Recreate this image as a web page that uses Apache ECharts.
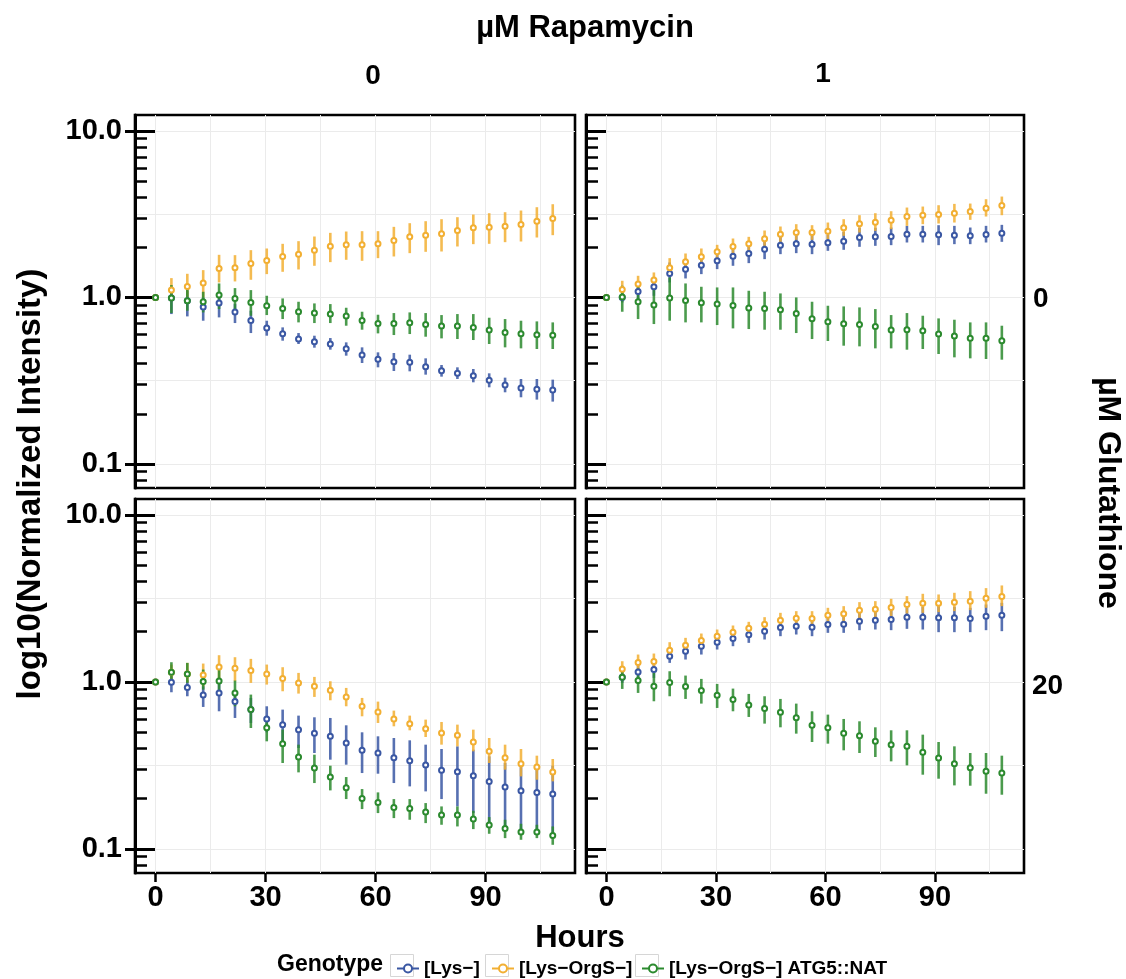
<!DOCTYPE html>
<html><head><meta charset="utf-8">
<script src="https://cdn.jsdelivr.net/npm/echarts@6/dist/echarts.min.js"></script>
<style>html,body{margin:0;padding:0;background:#fff}#c{width:1126px;height:979px}</style>
</head><body><div id="c"></div>
<script>
// ---------- data (y values are log10(Normalized Intensity)) ----------
const hours = [0, 4.33, 8.67, 13, 17.33, 21.67, 26, 30.33, 34.67, 39, 43.33, 47.67, 52, 56.33, 60.67, 65, 69.33, 73.67, 78, 82.33, 86.67, 91, 95.33, 99.67, 104, 108.33];
const genotypes = ['[Lys−]', '[Lys−OrgS−]', '[Lys−OrgS−] ATG5::NAT'];
const rapamycinLevels = ['0', '1'];
const glutathioneLevels = ['0', '20'];
const hourTicks = [0, 30, 60, 90];
const hourGrid = [0, 15, 30, 45, 60, 75, 90, 105];
const logMajor = [-1, 0, 1];
const logGrid = [-1, -0.5, 0, 0.5, 1];
const logMinorFactors = [2, 3, 4, 5, 6, 7, 8, 9];

// Rapamycin 0, Glutathione 0
const r0g0_lys_mid = [0, -0.004, -0.020, -0.058, -0.034, -0.088, -0.138, -0.184, -0.218, -0.250, -0.266, -0.280, -0.308, -0.346, -0.372, -0.386, -0.390, -0.416, -0.440, -0.456, -0.470, -0.498, -0.526, -0.544, -0.552, -0.556];
const r0g0_lys_hi  = [0, 0.050, 0.040, 0, 0.030, -0.040, -0.080, -0.140, -0.180, -0.214, -0.230, -0.244, -0.270, -0.300, -0.330, -0.334, -0.344, -0.366, -0.406, -0.420, -0.430, -0.456, -0.482, -0.490, -0.490, -0.494];
const r0g0_lys_lo  = [0, -0.100, -0.114, -0.140, -0.120, -0.154, -0.214, -0.230, -0.260, -0.280, -0.302, -0.314, -0.350, -0.394, -0.420, -0.442, -0.444, -0.464, -0.476, -0.490, -0.510, -0.540, -0.570, -0.600, -0.614, -0.626];
const r0g0_orgs_mid = [0, 0.044, 0.066, 0.086, 0.174, 0.178, 0.204, 0.222, 0.246, 0.260, 0.284, 0.308, 0.316, 0.316, 0.322, 0.342, 0.364, 0.374, 0.382, 0.402, 0.418, 0.422, 0.428, 0.438, 0.458, 0.474];
const r0g0_orgs_hi  = [0, 0.116, 0.142, 0.164, 0.256, 0.254, 0.284, 0.294, 0.322, 0.338, 0.366, 0.388, 0.396, 0.398, 0.398, 0.424, 0.446, 0.458, 0.470, 0.482, 0.498, 0.506, 0.512, 0.522, 0.542, 0.560];
const r0g0_orgs_lo  = [0, -0.026, -0.010, 0.000, 0.090, 0.096, 0.106, 0.140, 0.154, 0.168, 0.190, 0.212, 0.226, 0.220, 0.236, 0.246, 0.266, 0.274, 0.276, 0.306, 0.320, 0.322, 0.332, 0.336, 0.360, 0.374];
const r0g0_atg5_mid = [0, -0.004, -0.020, -0.026, 0.014, -0.006, -0.030, -0.050, -0.066, -0.086, -0.094, -0.100, -0.112, -0.138, -0.156, -0.156, -0.152, -0.162, -0.172, -0.172, -0.180, -0.196, -0.210, -0.218, -0.224, -0.228];
const r0g0_atg5_hi  = [0, 0.074, 0.064, 0.034, 0.084, 0.056, 0.044, 0.010, -0.006, -0.026, -0.036, -0.040, -0.062, -0.086, -0.104, -0.094, -0.090, -0.094, -0.106, -0.100, -0.100, -0.122, -0.130, -0.140, -0.144, -0.150];
const r0g0_atg5_lo  = [0, -0.094, -0.080, -0.090, -0.070, -0.070, -0.110, -0.106, -0.130, -0.150, -0.154, -0.154, -0.170, -0.194, -0.216, -0.226, -0.220, -0.236, -0.246, -0.250, -0.256, -0.280, -0.300, -0.306, -0.310, -0.310];

// Rapamycin 1, Glutathione 0
const r1g0_lys_mid = [0, 0, 0.036, 0.064, 0.144, 0.170, 0.194, 0.220, 0.248, 0.264, 0.290, 0.314, 0.322, 0.320, 0.328, 0.338, 0.360, 0.364, 0.366, 0.380, 0.380, 0.376, 0.374, 0.370, 0.378, 0.386];
const r1g0_lys_hi  = [0, 0.040, 0.090, 0.120, 0.210, 0.226, 0.250, 0.270, 0.304, 0.320, 0.346, 0.364, 0.380, 0.380, 0.378, 0.394, 0.418, 0.418, 0.420, 0.430, 0.430, 0.434, 0.430, 0.420, 0.430, 0.436];
const r1g0_lys_lo  = [0, -0.030, -0.010, 0.010, 0.090, 0.114, 0.140, 0.170, 0.190, 0.206, 0.230, 0.260, 0.266, 0.260, 0.280, 0.286, 0.304, 0.310, 0.314, 0.330, 0.330, 0.314, 0.320, 0.320, 0.330, 0.334];
const r1g0_orgs_mid = [0, 0.048, 0.080, 0.104, 0.178, 0.214, 0.244, 0.274, 0.306, 0.322, 0.352, 0.380, 0.390, 0.390, 0.398, 0.418, 0.442, 0.452, 0.464, 0.486, 0.494, 0.498, 0.506, 0.516, 0.536, 0.552];
const r1g0_orgs_hi  = [0, 0.100, 0.130, 0.150, 0.236, 0.264, 0.294, 0.316, 0.354, 0.364, 0.402, 0.426, 0.440, 0.434, 0.450, 0.470, 0.494, 0.506, 0.518, 0.540, 0.546, 0.554, 0.562, 0.564, 0.590, 0.606];
const r1g0_orgs_lo  = [0, 0.010, 0.034, 0.060, 0.140, 0.174, 0.200, 0.230, 0.266, 0.280, 0.310, 0.334, 0.346, 0.346, 0.350, 0.370, 0.390, 0.400, 0.410, 0.430, 0.440, 0.444, 0.450, 0.466, 0.486, 0.494];
const r1g0_atg5_mid = [0, 0.002, -0.026, -0.046, -0.004, -0.018, -0.032, -0.040, -0.048, -0.064, -0.066, -0.074, -0.096, -0.128, -0.146, -0.158, -0.162, -0.174, -0.196, -0.194, -0.200, -0.220, -0.232, -0.246, -0.246, -0.260];
const r1g0_atg5_hi  = [0, 0.070, 0.074, 0.060, 0.120, 0.084, 0.064, 0.060, 0.060, 0.040, 0.034, 0.024, 0, -0.026, -0.050, -0.054, -0.060, -0.070, -0.106, -0.094, -0.110, -0.126, -0.134, -0.150, -0.150, -0.170];
const r1g0_atg5_lo  = [0, -0.086, -0.130, -0.160, -0.140, -0.150, -0.150, -0.166, -0.186, -0.190, -0.194, -0.194, -0.214, -0.250, -0.262, -0.290, -0.294, -0.306, -0.306, -0.314, -0.310, -0.340, -0.360, -0.366, -0.370, -0.374];

// Rapamycin 0, Glutathione 20
const r0g20_lys_mid = [0, -0.002, -0.034, -0.078, -0.066, -0.118, -0.166, -0.222, -0.256, -0.286, -0.308, -0.326, -0.366, -0.410, -0.426, -0.454, -0.472, -0.498, -0.530, -0.538, -0.562, -0.596, -0.630, -0.652, -0.662, -0.672];
const r0g20_lys_hi  = [0, 0.034, 0.010, -0.026, 0.004, -0.056, -0.096, -0.146, -0.166, -0.202, -0.212, -0.216, -0.260, -0.302, -0.326, -0.336, -0.350, -0.376, -0.402, -0.386, -0.406, -0.446, -0.486, -0.496, -0.506, -0.502];
const r0g20_lys_lo  = [0, -0.062, -0.086, -0.150, -0.176, -0.216, -0.246, -0.302, -0.356, -0.396, -0.426, -0.466, -0.496, -0.546, -0.550, -0.606, -0.626, -0.656, -0.702, -0.746, -0.786, -0.846, -0.866, -0.886, -0.916, -0.926];
const r0g20_orgs_mid = [0, 0.058, 0.048, 0.042, 0.090, 0.082, 0.068, 0.048, 0.020, -0.006, -0.026, -0.050, -0.090, -0.146, -0.180, -0.222, -0.250, -0.280, -0.306, -0.320, -0.360, -0.416, -0.454, -0.490, -0.510, -0.540];
const r0g20_orgs_hi  = [0, 0.104, 0.114, 0.110, 0.160, 0.148, 0.138, 0.104, 0.088, 0.054, 0.030, 0.004, -0.036, -0.096, -0.118, -0.172, -0.202, -0.226, -0.240, -0.256, -0.286, -0.336, -0.376, -0.402, -0.442, -0.462];
const r0g20_orgs_lo  = [0, 0.014, -0.002, -0.026, 0.004, 0.004, -0.006, -0.016, -0.056, -0.070, -0.090, -0.110, -0.146, -0.206, -0.246, -0.266, -0.290, -0.330, -0.376, -0.386, -0.416, -0.486, -0.526, -0.566, -0.586, -0.596];
const r0g20_atg5_mid = [0, 0.058, 0.048, 0.002, 0.006, -0.066, -0.166, -0.274, -0.370, -0.450, -0.516, -0.570, -0.634, -0.698, -0.722, -0.752, -0.758, -0.780, -0.798, -0.798, -0.822, -0.858, -0.878, -0.900, -0.900, -0.920];
const r0g20_atg5_hi  = [0, 0.118, 0.114, 0.074, 0.080, 0.008, -0.076, -0.216, -0.286, -0.376, -0.436, -0.502, -0.570, -0.642, -0.662, -0.702, -0.702, -0.726, -0.746, -0.746, -0.772, -0.810, -0.826, -0.850, -0.856, -0.866];
const r0g20_atg5_lo  = [0, -0.016, -0.006, -0.046, -0.066, -0.146, -0.276, -0.356, -0.486, -0.542, -0.606, -0.650, -0.702, -0.762, -0.786, -0.816, -0.826, -0.846, -0.856, -0.866, -0.882, -0.910, -0.936, -0.946, -0.936, -0.976];

// Rapamycin 1, Glutathione 20
const r1g20_lys_mid = [0, 0.028, 0.060, 0.074, 0.154, 0.184, 0.214, 0.238, 0.260, 0.282, 0.304, 0.326, 0.334, 0.328, 0.344, 0.346, 0.364, 0.370, 0.374, 0.388, 0.388, 0.384, 0.384, 0.380, 0.394, 0.400];
const r1g20_lys_hi  = [0, 0.064, 0.114, 0.124, 0.204, 0.234, 0.264, 0.284, 0.304, 0.334, 0.354, 0.374, 0.384, 0.378, 0.394, 0.398, 0.424, 0.428, 0.434, 0.444, 0.450, 0.454, 0.450, 0.444, 0.464, 0.474];
const r1g20_lys_lo  = [0, -0.006, 0.014, 0.024, 0.114, 0.134, 0.164, 0.194, 0.214, 0.234, 0.254, 0.274, 0.284, 0.274, 0.294, 0.294, 0.310, 0.314, 0.310, 0.318, 0.314, 0.298, 0.298, 0.298, 0.310, 0.304];
const r1g20_orgs_mid = [0, 0.078, 0.116, 0.122, 0.190, 0.220, 0.248, 0.274, 0.298, 0.322, 0.346, 0.370, 0.382, 0.380, 0.400, 0.408, 0.430, 0.436, 0.446, 0.464, 0.472, 0.472, 0.478, 0.484, 0.502, 0.512];
const r1g20_orgs_hi  = [0, 0.124, 0.164, 0.170, 0.238, 0.264, 0.290, 0.314, 0.338, 0.360, 0.388, 0.414, 0.424, 0.424, 0.444, 0.454, 0.478, 0.484, 0.498, 0.514, 0.528, 0.524, 0.534, 0.544, 0.562, 0.578];
const r1g20_orgs_lo  = [0, 0.034, 0.064, 0.078, 0.144, 0.174, 0.204, 0.230, 0.254, 0.274, 0.304, 0.324, 0.334, 0.334, 0.354, 0.358, 0.378, 0.384, 0.394, 0.410, 0.414, 0.418, 0.424, 0.430, 0.444, 0.454];
const r1g20_atg5_mid = [0, 0.028, 0.008, -0.026, -0.004, -0.028, -0.052, -0.080, -0.106, -0.138, -0.160, -0.182, -0.214, -0.260, -0.274, -0.308, -0.322, -0.356, -0.376, -0.386, -0.422, -0.456, -0.490, -0.514, -0.536, -0.546];
const r1g20_atg5_hi  = [0, 0.084, 0.080, 0.054, 0.064, 0.038, 0.018, -0.012, -0.040, -0.072, -0.086, -0.102, -0.130, -0.176, -0.196, -0.222, -0.236, -0.272, -0.290, -0.290, -0.316, -0.360, -0.386, -0.426, -0.426, -0.442];
const r1g20_atg5_lo  = [0, -0.042, -0.066, -0.116, -0.086, -0.102, -0.130, -0.156, -0.176, -0.210, -0.250, -0.272, -0.310, -0.360, -0.370, -0.410, -0.426, -0.450, -0.476, -0.500, -0.556, -0.580, -0.620, -0.622, -0.670, -0.676];

// ---------- build ----------
const FONT = '"Liberation Sans", Arial, Helvetica, sans-serif';
const colors = ['#3A57A3', '#F2AF32', '#2B8A2E'];
const XMIN = -5.6, XMAX = 114.4, YMIN = -1.145, YMAX = 1.096;

const panels = [
  { grid: {left:135, top:115, width:440, height:373}, isLeft:true,  isBottom:false,
    sets: [[r0g0_lys_mid, r0g0_lys_lo, r0g0_lys_hi], [r0g0_orgs_mid, r0g0_orgs_lo, r0g0_orgs_hi], [r0g0_atg5_mid, r0g0_atg5_lo, r0g0_atg5_hi]] },
  { grid: {left:586, top:115, width:438, height:373}, isLeft:false, isBottom:false,
    sets: [[r1g0_lys_mid, r1g0_lys_lo, r1g0_lys_hi], [r1g0_orgs_mid, r1g0_orgs_lo, r1g0_orgs_hi], [r1g0_atg5_mid, r1g0_atg5_lo, r1g0_atg5_hi]] },
  { grid: {left:135, top:499, width:440, height:374}, isLeft:true,  isBottom:true,
    sets: [[r0g20_lys_mid, r0g20_lys_lo, r0g20_lys_hi], [r0g20_orgs_mid, r0g20_orgs_lo, r0g20_orgs_hi], [r0g20_atg5_mid, r0g20_atg5_lo, r0g20_atg5_hi]] },
  { grid: {left:586, top:499, width:438, height:374}, isLeft:false, isBottom:true,
    sets: [[r1g20_lys_mid, r1g20_lys_lo, r1g20_lys_hi], [r1g20_orgs_mid, r1g20_orgs_lo, r1g20_orgs_hi], [r1g20_atg5_mid, r1g20_atg5_lo, r1g20_atg5_hi]] }
];

const logMinor = [];
[-2, -1, 0, 1].forEach(function (e) {
  logMinorFactors.forEach(function (f) {
    const v = Math.log10(f) + e;
    if (v > YMIN && v < YMAX) logMinor.push(v);
  });
});

const grids = [], xAxes = [], yAxes = [], pointSeries = [], barSeries = [];
const black = '#000';
const hidden = { show: false };

panels.forEach(function (p, gi) {
  grids.push(Object.assign({ show: true, borderColor: black, borderWidth: 2.6, backgroundColor: '#fff' }, p.grid));
  const xi = xAxes.length, yi = yAxes.length;
  xAxes.push({ gridIndex: gi, type: 'value', min: XMIN, max: XMAX, position: 'bottom',
    axisLine: { show: false, onZero: false },
    axisTick: { show: p.isBottom, customValues: hourTicks, length: 9, lineStyle: { color: black, width: 2.5 } },
    axisLabel: { show: p.isBottom, customValues: hourTicks, margin: 10, color: black, fontFamily: FONT, fontSize: 29, fontWeight: 'bold' },
    splitLine: hidden });
  xAxes.push({ gridIndex: gi, type: 'value', min: XMIN, max: XMAX, position: 'bottom',
    axisLine: { show: false, onZero: false },
    axisTick: { show: false, customValues: hourGrid },
    axisLabel: hidden,
    splitLine: { show: true, lineStyle: { color: '#ebebeb', width: 1 } } });
  yAxes.push({ gridIndex: gi, type: 'value', min: YMIN, max: YMAX, position: 'left',
    axisLine: { show: true, onZero: false, lineStyle: { color: black, width: 3 } },
    axisTick: { show: p.isLeft, customValues: logMajor, length: 10, lineStyle: { color: black, width: 3 } },
    axisLabel: { show: p.isLeft, customValues: logMajor, margin: 13, color: black, fontFamily: FONT, fontSize: 29, fontWeight: 'bold',
      formatter: function (v) { return Math.pow(10, v).toFixed(1); } },
    splitLine: hidden });
  yAxes.push({ gridIndex: gi, type: 'value', min: YMIN, max: YMAX, position: 'left',
    axisLine: { show: false, onZero: false },
    axisTick: { show: true, inside: true, customValues: logMajor, length: 20, lineStyle: { color: black, width: 3 } },
    axisLabel: hidden, splitLine: hidden });
  yAxes.push({ gridIndex: gi, type: 'value', min: YMIN, max: YMAX, position: 'left',
    axisLine: { show: false, onZero: false },
    axisTick: { show: true, inside: true, customValues: logMinor, length: 12, lineStyle: { color: black, width: 2.5 } },
    axisLabel: hidden, splitLine: hidden });
  yAxes.push({ gridIndex: gi, type: 'value', min: YMIN, max: YMAX, position: 'left',
    axisLine: { show: false, onZero: false },
    axisTick: { show: false, customValues: logGrid },
    axisLabel: hidden,
    splitLine: { show: true, lineStyle: { color: '#ebebeb', width: 1 } } });

  p.sets.forEach(function (s, k) {
    const mid = s[0], lo = s[1], hi = s[2];
    pointSeries.push({
      type: 'line', name: genotypes[k], xAxisIndex: xi, yAxisIndex: yi, z: 5,
      data: hours.map(function (h, i) { return [h, mid[i]]; }),
      symbol: 'emptyCircle', symbolSize: 5, showSymbol: true,
      lineStyle: { opacity: 0 },
      itemStyle: { color: colors[k], borderWidth: 1.2 },
      emphasis: { disabled: true }, silent: true
    });
    barSeries.push({
      type: 'custom', name: genotypes[k], xAxisIndex: xi, yAxisIndex: yi, z: 3,
      data: hours.map(function (h, i) { return [h, lo[i], hi[i]]; }),
      encode: { x: 0, y: [1, 2] },
      renderItem: function (params, api) {
        const a = api.coord([api.value(0), api.value(1)]);
        const b = api.coord([api.value(0), api.value(2)]);
        return { type: 'line', shape: { x1: a[0], y1: a[1], x2: b[0], y2: b[1] },
          style: { stroke: colors[k], lineWidth: 2.6, opacity: 0.85 } };
      },
      silent: true
    });
  });
});

function txt(text, x, y, size, rotation, align) {
  return { type: 'text', x: x, y: y, rotation: rotation || 0, silent: true,
    style: { text: text, fill: black, font: 'bold ' + size + 'px ' + FONT,
      align: align || 'center', verticalAlign: 'middle', textAlign: align || 'center', textVerticalAlign: 'middle' } };
}

// one legend per genotype so each key box can be framed
const legendLefts = [391, 486, 636];
const legends = genotypes.map(function (g, k) {
  return {
    data: [g], left: legendLefts[k], top: 954, itemWidth: 22, itemHeight: 10,
    selectedMode: false,
    lineStyle: { opacity: 1, width: 2 },
    itemStyle: { color: colors[k], borderWidth: 0 },
    textStyle: { fontFamily: FONT, fontSize: 19, fontWeight: 'bold', color: black }
  };
});
const keyBoxes = legendLefts.map(function (x) {
  return { type: 'rect', silent: true, shape: { x: x - 0.5, y: 954.5, width: 23, height: 22 },
    style: { fill: 'none', stroke: '#d6d6d6', lineWidth: 1 }, z: -1 };
});

const option = {
  animation: false,
  backgroundColor: '#fff',
  grid: grids,
  xAxis: xAxes,
  yAxis: yAxes,
  legend: legends,
  graphic: [
    txt('µM Rapamycin', 585, 28, 31),
    txt(rapamycinLevels[0], 373, 76, 28),
    txt(rapamycinLevels[1], 823, 74, 28),
    txt(glutathioneLevels[0], 1033, 299, 28, 0, 'left'),
    txt(glutathioneLevels[1], 1032, 686, 28, 0, 'left'),
    txt('µM Glutathione', 1108, 493, 32, -Math.PI / 2),
    txt('log10(Normalized Intensity)', 31, 484, 33, Math.PI / 2),
    txt('Hours', 580, 938, 31),
    txt('Genotype', 277, 965, 23, 0, 'left')
  ].concat(keyBoxes),
  series: pointSeries.concat(barSeries)
};

const chart = echarts.init(document.getElementById('c'), null, { renderer: 'canvas' });
chart.setOption(option);
</script>
</body></html>
